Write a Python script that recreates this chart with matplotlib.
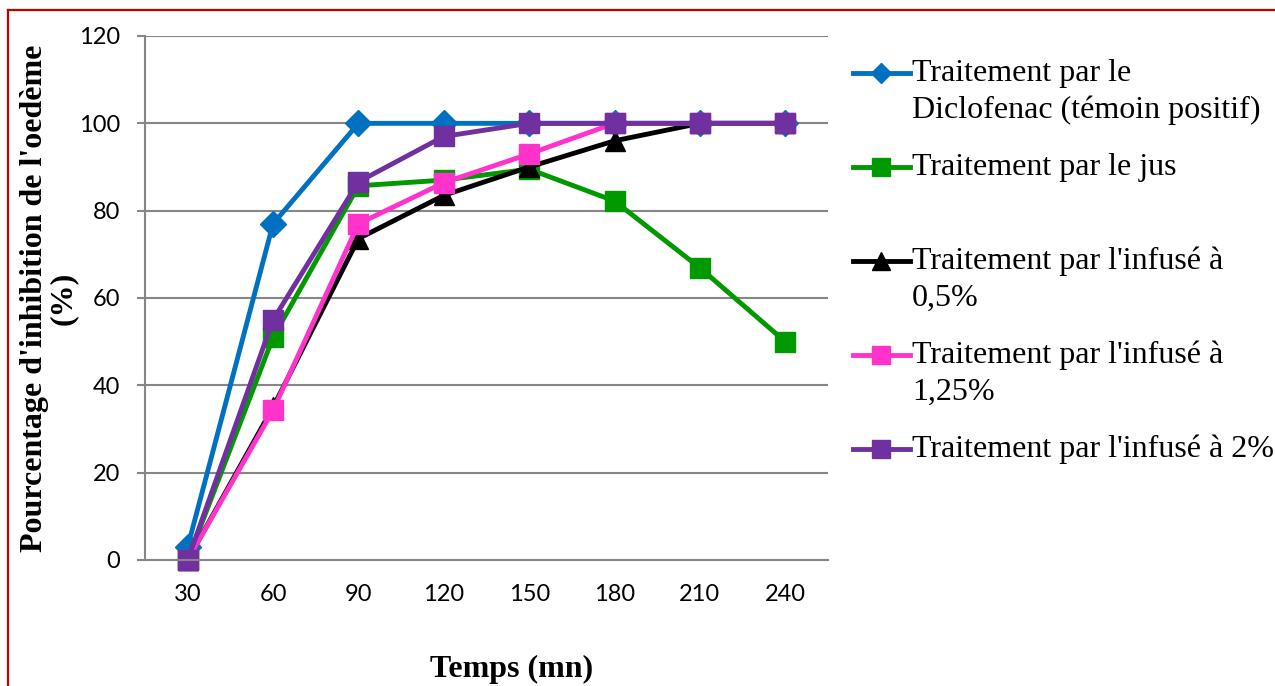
import matplotlib
matplotlib.use("Agg")
import matplotlib.pyplot as plt
from matplotlib.lines import Line2D

# ---- data ----
temps = ["30", "60", "90", "120", "150", "180", "210", "240"]
diclofenac = [3, 77, 100, 100, 100, 100, 100, 100]
jus = [0, 51, 85.7, 87, 89.5, 82.2, 66.9, 50]
infuse_05 = [0, 35, 73.6, 83.5, 90, 96, 100, 100]
infuse_125 = [0, 34.3, 77, 86.4, 93, 100, 100, 100]
infuse_2 = [0, 55, 86.6, 97, 100, 100, 100, 100]

labels = ["Traitement par le\nDiclofenac (témoin positif)",
          "Traitement par le jus",
          "Traitement par l'infusé à\n0,5%",
          "Traitement par l'infusé à\n1,25%",
          "Traitement par l'infusé à 2%"]
series = [diclofenac, jus, infuse_05, infuse_125, infuse_2]
colors = ["#0070C0", "#009900", "#000000", "#FF33CC", "#7030A0"]
markers = ["D", "s", "^", "s", "s"]
msizes = [13, 14, 14, 14, 14]
leg_msizes = [10, 13, 13, 13, 13]

W, H = 1275, 686
fig = plt.figure(figsize=(W / 100, H / 100), dpi=100)
ax = fig.add_axes([145 / W, 1 - 560 / H, (828 - 145) / W, (560 - 36) / H])

x = list(range(len(temps)))
for vals, c, m, ms, lab in zip(series, colors, markers, msizes, labels):
    ax.plot(x, vals, color=c, marker=m, markersize=ms, markeredgecolor=c,
            linewidth=3.5, label=lab, solid_joinstyle="round", clip_on=False)

ax.set_xlim(-0.5, len(temps) - 0.5)
ax.set_ylim(0, 120)
ax.set_yticks(range(0, 121, 20))
ax.set_xticks(x)
ax.set_xticklabels(temps)
ax.grid(axis="y", color="#868686", linewidth=1.5)
ax.set_axisbelow(True)
for s in ["top", "right"]:
    ax.spines[s].set_visible(False)
ax.spines["left"].set_color("#868686")
ax.spines["left"].set_linewidth(1.5)
ax.spines["bottom"].set_color("#868686")
ax.spines["bottom"].set_linewidth(1.5)
ax.tick_params(axis="y", length=6, width=1.5, color="#868686", pad=12,
               labelsize=17)
ax.tick_params(axis="x", length=0, pad=17, labelsize=17)
for t in ax.get_xticklabels() + ax.get_yticklabels():
    t.set_fontfamily("Lato")

serif = "Liberation Serif"
fig.text(512 / W, 1 - 669 / H, "Temps (mn)", ha="center", va="center",
         fontsize=23, fontweight="bold", fontfamily=serif)
fig.text(49 / W, 1 - 298 / H, "Pourcentage d'inhibition de l'oedème\n(%)",
         ha="center", va="center", rotation=90, fontsize=23,
         fontweight="bold", fontfamily=serif, linespacing=1.0)

# ---- legend (Excel-style, handle aligned with first text line) ----
for i, (c, m, ms, lab) in enumerate(zip(colors, markers, leg_msizes, labels)):
    y0 = 73 + 94 * i
    yf = 1 - y0 / H
    fig.add_artist(Line2D([853 / W, 881 / W, 910 / W], [yf, yf, yf],
                          transform=fig.transFigure, color=c, linewidth=3.5,
                          marker=m, markersize=ms, markeredgecolor=c,
                          markevery=[1]))
    for j, line in enumerate(lab.split("\n")):
        fig.text(912 / W, 1 - (y0 + 37 * j) / H, line, ha="left",
                 va="center", fontsize=23, fontfamily=serif)

# ---- red frame ----
red = "#C00000"
fig.add_artist(Line2D([8 / W, 1.0], [1 - 9.5 / H, 1 - 9.5 / H],
                      transform=fig.transFigure, color=red, linewidth=1.6))
fig.add_artist(Line2D([8 / W, 8 / W], [1 - 9.5 / H, 0],
                      transform=fig.transFigure, color=red, linewidth=1.6))

fig.savefig("out.png", dpi=100, facecolor="white")
